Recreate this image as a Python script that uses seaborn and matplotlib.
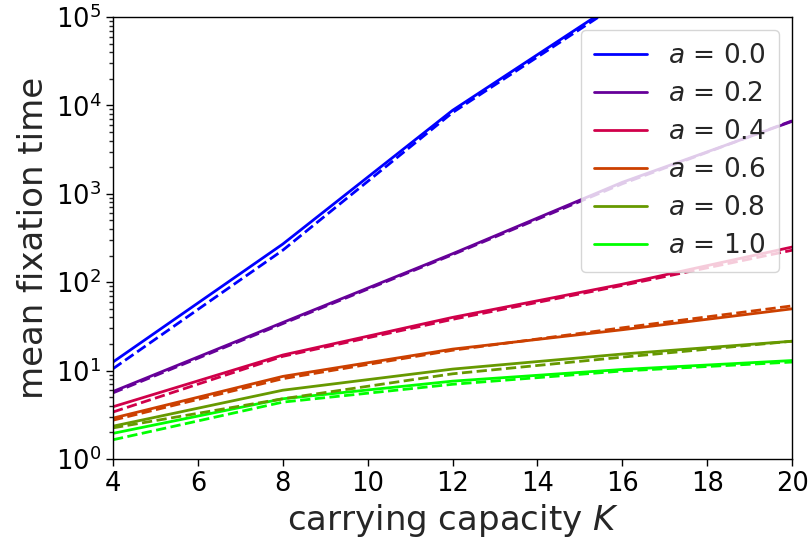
import numpy as np
import pandas as pd
import seaborn as sns
import matplotlib
matplotlib.use("Agg")
import matplotlib.pyplot as plt

# carrying capacity values
K = [4, 8, 12, 16, 20]
a_values = [0.0, 0.2, 0.4, 0.6, 0.8, 1.0]
colors = ["#0000ff", "#660099", "#d0004a", "#cc4000", "#669900", "#00ff00"]

# solid lines (simulation)
sim_a00 = [12.5, 270, 8800, 160000, 2500000]
sim_a02 = [5.8, 35, 210, 1350, 6600]
sim_a04 = [3.9, 15, 40, 95, 250]
sim_a06 = [2.9, 8.6, 17.5, 29, 50]
sim_a08 = [2.35, 6.0, 10.4, 15.4, 21.5]
sim_a10 = [1.95, 4.8, 7.6, 10.3, 13.0]

# dashed lines (approximation)
thy_a00 = [10.5, 230, 8300, 150000, 2300000]
thy_a02 = [5.6, 34, 205, 1300, 6700]
thy_a04 = [3.4, 14.5, 38, 92, 230]
thy_a06 = [2.75, 8.1, 17, 30.5, 54]
thy_a08 = [2.25, 4.8, 9.2, 14.2, 21.5]
thy_a10 = [1.65, 4.4, 7.0, 9.9, 12.5]

sim = [sim_a00, sim_a02, sim_a04, sim_a06, sim_a08, sim_a10]
thy = [thy_a00, thy_a02, thy_a04, thy_a06, thy_a08, thy_a10]

rows = []
for a, s, t in zip(a_values, sim, thy):
    for k, vs, vt in zip(K, s, t):
        rows.append([k, vs, f"$a$ = {a:.1f}", "sim"])
        rows.append([k, vt, f"$a$ = {a:.1f}", "thy"])
df = pd.DataFrame(rows, columns=["K", "T", "label", "kind"])

sns.set_theme(style="ticks")
plt.rcParams["font.family"] = ["DejaVu Sans"]
plt.rcParams["mathtext.fontset"] = "dejavusans"

fig = plt.figure(figsize=(8.1, 5.4), dpi=100)
ax = fig.add_axes([0.1395, 0.15, 0.8385, 0.8185])

palette = dict(zip([f"$a$ = {a:.1f}" for a in a_values], colors))
sns.lineplot(data=df[df.kind == "sim"], x="K", y="T", hue="label", palette=palette,
             lw=2, ax=ax, legend=True)
sns.lineplot(data=df[df.kind == "thy"], x="K", y="T", hue="label", palette=palette,
             lw=2, ls="--", ax=ax, legend=False)

ax.set_yscale("log")
ax.set_xlim(4, 20)
ax.set_ylim(1, 1e5)
ax.set_xticks(range(4, 21, 2))
ax.tick_params(labelsize=18.5, direction="out", length=5, width=1, colors="black")
ax.tick_params(which="minor", length=3)
for sp in ax.spines.values():
    sp.set_color("black")
    sp.set_linewidth(1)
ax.set_xlabel("carrying capacity $K$", fontsize=24.5)
ax.set_ylabel("mean fixation time", fontsize=24.5)
ax.legend(loc="upper right", fontsize=19, frameon=True, framealpha=0.8, edgecolor="#cccccc",
          handlelength=2.0, borderpad=0.5, labelspacing=0.45)

fig.savefig("out.png", dpi=100)
